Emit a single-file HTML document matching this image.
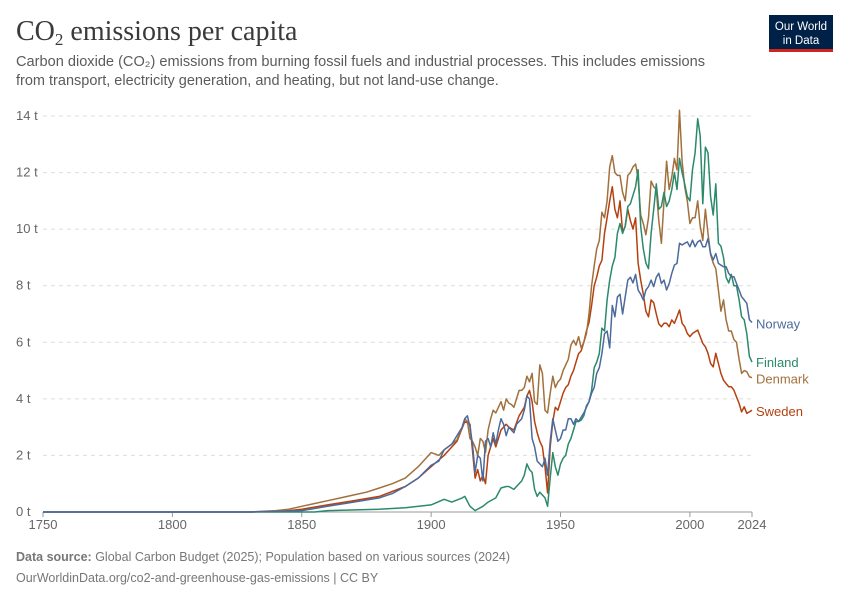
<!DOCTYPE html>
<html><head><meta charset="utf-8"><style>
body{margin:0;background:#fff;width:850px;height:600px;overflow:hidden;font-family:"Liberation Sans",sans-serif}
svg text{font-family:"Liberation Sans",sans-serif}
</style></head><body>
<svg id="chart" width="850" height="600" xmlns="http://www.w3.org/2000/svg">
<text x="16" y="40" font-size="28" fill="#3a3a3a" style="font-family:'Liberation Serif',serif">CO<tspan font-size="17" dy="5">2</tspan><tspan dy="-5"> emissions per capita</tspan></text>
<g>
<rect x="769" y="15" width="64" height="37" fill="#002147"/>
<rect x="769" y="49" width="64" height="3" fill="#ce261e"/>
<text x="801" y="30" font-size="11.5" fill="#fff" text-anchor="middle">Our World</text>
<text x="801" y="44" font-size="11.5" fill="#fff" text-anchor="middle">in Data</text>
</g>
<text x="16" y="66" font-size="14.5" fill="#5b5b5b" textLength="689" lengthAdjust="spacingAndGlyphs">Carbon dioxide (CO₂) emissions from burning fossil fuels and industrial processes. This includes emissions</text>
<text x="16" y="85" font-size="14.5" fill="#5b5b5b">from transport, electricity generation, and heating, but not land-use change.</text>
<g id="grid"></g><g id="series"></g>
<text x="16" y="561" font-size="12.5" fill="#777"><tspan font-weight="bold">Data source:</tspan> Global Carbon Budget (2025); Population based on various sources (2024)</text>
<text x="16" y="582" font-size="12.5" fill="#777">OurWorldinData.org/co2-and-greenhouse-gas-emissions | CC BY</text>
</svg>
<script>
const yTicks=[0,2,4,6,8,10,12,14];
const xTicks=[1750,1800,1850,1900,1950,2000,2024];
const countries=["Norway","Finland","Denmark","Sweden"];
const colors=["#4c6a9c","#2a8a6a","#a2703c","#b5400f"];
const norwayYears=[1750,1830,1840,1850,1860,1870,1880,1885,1890,1895,1900,1903,1905,1908,1910,1912,1913,1914,1915,1916,1917,1918,1919,1920,1921,1922,1923,1924,1925,1926,1927,1928,1929,1930,1932,1933,1935,1936,1937,1938,1939,1940,1941,1942,1943,1944,1945,1946,1947,1948,1949,1950,1951,1952,1953,1954,1955,1956,1957,1958,1959,1960,1961,1962,1963,1964,1965,1966,1967,1968,1969,1970,1971,1972,1973,1974,1975,1976,1977,1978,1979,1980,1981,1982,1983,1984,1985,1986,1987,1988,1989,1990,1991,1992,1993,1994,1995,1996,1997,1998,1999,2000,2001,2002,2003,2004,2005,2006,2007,2008,2009,2010,2011,2012,2013,2014,2015,2016,2017,2018,2019,2020,2021,2022,2023,2024];
const norwayValues=[0,0,0.02,0.05,0.2,0.35,0.5,0.65,0.9,1.2,1.65,1.8,2.2,2.4,2.7,3.0,3.3,3.4,3.0,2.4,1.4,2.0,1.9,1.1,2.5,2.6,2.3,2.8,2.4,2.9,3.3,3.1,2.7,3.0,2.8,3.1,3.3,3.6,4.1,4.0,2.6,2.3,1.8,1.7,1.6,1.9,1.3,2.5,3.3,2.9,2.5,2.6,2.9,2.9,3.3,3.3,3.1,3.3,3.2,3.35,3.5,3.7,3.9,4.2,4.4,4.9,5.1,5.6,6.3,6.4,5.8,7.3,6.9,7.6,7.7,7.0,7.6,8.2,8.3,8.1,8.4,7.85,7.7,7.5,7.85,7.97,8.2,7.97,8.3,8.44,8.08,8.2,7.85,8.08,8.44,8.73,8.79,9.5,9.44,9.5,9.55,9.38,9.61,9.38,9.55,9.61,9.38,9.38,9.67,9.14,8.91,9.14,8.79,8.73,8.67,8.67,8.44,8.32,8.32,8.08,7.85,7.61,7.5,7.38,6.8,6.7];
const finlandYears=[1750,1855,1860,1880,1890,1900,1905,1908,1912,1913,1915,1917,1920,1922,1925,1927,1929,1930,1932,1935,1936,1937,1938,1939,1940,1941,1942,1943,1944,1945,1946,1947,1948,1949,1950,1951,1952,1953,1954,1955,1956,1957,1958,1959,1960,1961,1962,1963,1964,1965,1966,1967,1968,1969,1970,1971,1972,1973,1974,1975,1976,1977,1978,1979,1980,1981,1982,1983,1984,1985,1986,1987,1988,1989,1990,1991,1992,1993,1994,1995,1996,1997,1998,1999,2000,2001,2002,2003,2004,2005,2006,2007,2008,2009,2010,2011,2012,2013,2014,2015,2016,2017,2018,2019,2020,2021,2022,2023,2024];
const finlandValues=[0,0,0.05,0.1,0.15,0.25,0.45,0.35,0.5,0.55,0.2,0.05,0.2,0.35,0.5,0.85,0.9,0.9,0.8,1.1,1.3,1.7,1.5,1.4,0.8,0.55,0.7,0.6,0.5,0.2,1.2,2.1,1.6,1.3,1.7,1.9,2.0,2.4,2.6,2.9,3.2,3.2,3.25,3.4,3.75,3.9,4.3,5.1,5.3,5.6,6.5,6.4,7.5,8.2,8.7,9.0,9.85,10.2,9.85,10.1,10.8,10.9,11.2,11.5,12.1,10.1,9.3,8.8,8.6,9.85,10.7,11.6,10.7,10.8,11.3,10.8,11.0,11.4,12.0,11.4,12.5,12.0,11.6,11.15,11.0,12.1,12.7,13.9,13.3,10.9,12.9,12.7,11.15,10.5,11.6,9.5,9.4,9.0,8.3,8.1,8.4,8.0,8.0,7.5,6.9,6.8,6.3,5.5,5.3];
const denmarkYears=[1750,1830,1840,1845,1850,1855,1860,1865,1870,1875,1880,1885,1890,1895,1900,1903,1905,1908,1910,1912,1913,1914,1915,1916,1917,1918,1919,1920,1921,1922,1923,1924,1925,1926,1927,1928,1929,1930,1931,1932,1933,1934,1935,1936,1937,1938,1939,1940,1941,1942,1943,1944,1945,1946,1947,1948,1949,1950,1951,1952,1953,1954,1955,1956,1957,1958,1959,1960,1961,1962,1963,1964,1965,1966,1967,1968,1969,1970,1971,1972,1973,1974,1975,1976,1977,1978,1979,1980,1981,1982,1983,1984,1985,1986,1987,1988,1989,1990,1991,1992,1993,1994,1995,1996,1997,1998,1999,2000,2001,2002,2003,2004,2005,2006,2007,2008,2009,2010,2011,2012,2013,2014,2015,2016,2017,2018,2019,2020,2021,2022,2023,2024];
const denmarkValues=[0,0,0.05,0.1,0.2,0.3,0.4,0.5,0.6,0.7,0.85,1.0,1.2,1.6,2.1,2.0,2.2,2.4,2.55,3.0,3.3,3.2,2.6,2.5,2.3,2.0,2.6,2.5,2.1,2.9,3.3,3.6,3.5,3.7,3.9,3.6,4.0,3.85,3.8,3.7,4.0,4.3,4.3,4.4,4.8,4.6,4.9,3.9,3.8,5.2,4.9,3.6,3.5,4.2,4.8,4.4,4.6,4.7,5.0,5.2,5.4,5.9,6.07,5.9,6.2,5.8,6.0,6.3,7.0,8.0,8.7,9.3,9.6,10.6,10.4,11.0,12.2,12.6,12.0,11.9,11.9,11.3,11.0,11.9,12.0,12.2,12.3,11.8,10.5,10.2,9.8,10.4,11.7,11.5,11.4,10.3,9.5,11.0,12.4,11.4,11.85,12.5,12.1,14.2,12.4,11.5,11.0,10.2,10.4,10.4,11.0,10.1,9.6,10.7,9.85,9.1,8.8,8.6,7.85,7.1,7.5,6.8,6.4,6.4,6.1,6.0,5.4,4.9,5.0,4.96,4.78,4.75];
const swedenYears=[1750,1830,1845,1850,1860,1870,1880,1890,1895,1900,1905,1910,1913,1915,1917,1918,1919,1920,1921,1922,1924,1925,1927,1929,1930,1932,1934,1936,1937,1938,1939,1940,1941,1942,1943,1944,1945,1946,1947,1948,1949,1950,1951,1952,1953,1954,1955,1956,1957,1958,1959,1960,1961,1962,1963,1964,1965,1966,1967,1968,1969,1970,1971,1972,1973,1974,1975,1976,1977,1978,1979,1980,1981,1982,1983,1984,1985,1986,1987,1988,1989,1990,1991,1992,1993,1994,1995,1996,1997,1998,1999,2000,2001,2002,2003,2004,2005,2006,2007,2008,2009,2010,2011,2012,2013,2014,2015,2016,2017,2018,2019,2020,2021,2022,2023,2024];
const swedenValues=[0,0,0.05,0.1,0.25,0.4,0.55,0.9,1.2,1.6,2.0,2.5,3.2,3.1,1.2,1.5,1.1,1.3,1.0,2.0,2.6,2.3,2.9,3.1,3.0,2.9,3.4,3.7,4.1,4.3,3.9,3.2,2.8,2.5,2.3,1.6,0.67,2.3,3.2,3.7,3.6,3.9,4.2,4.4,4.5,4.8,5.0,5.3,5.6,5.7,6.0,6.4,6.7,7.3,8.0,8.3,8.7,8.9,9.85,10.4,11.0,11.5,10.7,10.4,11.0,9.9,10.1,10.7,10.3,10.0,10.4,8.8,8.2,7.7,7.1,6.9,7.5,7.4,7.0,6.65,6.55,6.67,6.67,6.55,6.79,6.67,6.9,7.14,6.67,6.55,6.31,6.2,6.31,6.37,6.43,6.2,5.96,5.84,5.61,5.25,5.13,5.61,5.25,4.9,4.66,4.54,4.43,4.43,4.31,4.07,3.84,3.54,3.72,3.49,3.54,3.6];

const X0=43,X1=752,Y0=512,Y1=116;
function xs(yr){return X0+(yr-1750)*(X1-X0)/(2024-1750);}
function ys(v){return Y0-v*(Y0-Y1)/14;}
const NS="http://www.w3.org/2000/svg";
const grid=document.getElementById('grid'),ser=document.getElementById('series');
function mk(tag,attrs,parent){const e=document.createElementNS(NS,tag);for(const k in attrs)e.setAttribute(k,attrs[k]);parent.appendChild(e);return e;}
yTicks.forEach(t=>{
  const y=ys(t);
  const l=mk('line',{x1:X0,x2:X1,y1:y,y2:y,stroke:t===0?'#999':'#ddd','stroke-dasharray':t===0?'':'4,4'},grid);
  
  
  const tx=mk('text',{x:16,y:y+4,'font-size':13,fill:'#666'},grid);
  tx.textContent=t+' t';
  
  
});
xTicks.forEach(yr=>{
  const x=xs(yr);
  const tk=mk('line',{x1:x,x2:x,y1:Y0,y2:Y0+5,stroke:'#999'},grid);
  
  
  const tx=mk('text',{x:x,y:Y0+17,'font-size':13,fill:'#666','text-anchor':'middle'},grid);
  tx.textContent=yr;
  
  
});
const yearsArr=[norwayYears,finlandYears,denmarkYears,swedenYears];
const valsArr=[norwayValues,finlandValues,denmarkValues,swedenValues];
[3,2,1,0].forEach(i=>{
  const d=yearsArr[i].map((yr,j)=>(j?'L':'M')+xs(yr).toFixed(1)+','+ys(valsArr[i][j]).toFixed(1)).join('');
  const p=mk('path',{d:d,fill:'none',stroke:colors[i],'stroke-width':1.5,'stroke-linejoin':'round'},ser);
  
  
});
const last=valsArr.map(v=>v[v.length-1]);
const ly=[ys(last[0])+1,ys(last[1]),ys(last[2])+1,ys(last[3])+1];
countries.forEach((c,i)=>{
  const t=mk('text',{x:756,y:ly[i]+5,'font-size':13,fill:colors[i]},ser);
  t.textContent=c;
  
  
});
</script>
</body></html>
